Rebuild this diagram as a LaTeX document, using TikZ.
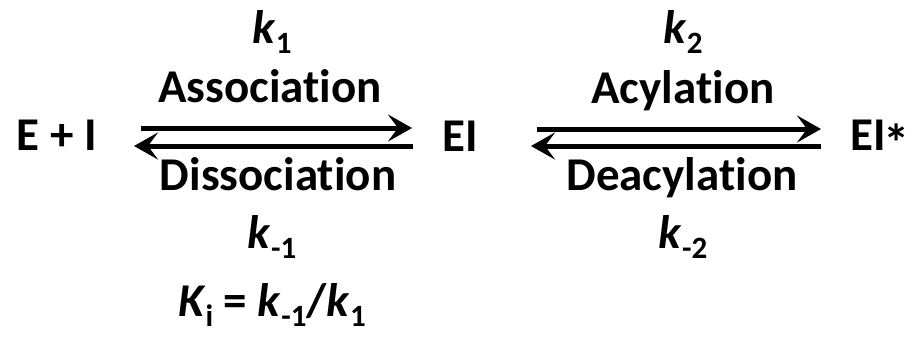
\documentclass[tikz,border=0pt]{standalone}
\usepackage{fontspec}
\usepackage{graphicx}
\setmainfont{Carlito}[Ligatures=NoCommon]
\usetikzlibrary{arrows.meta}
\newcommand\mysub[1]{\raisebox{-0.22em}{\fontsize{31}{34}\selectfont #1}}
\begin{document}
\begin{tikzpicture}[x=1pt,y=-1pt,
  lbl/.style={font=\fontsize{47}{54}\selectfont\bfseries, inner sep=0pt, anchor=base},
  rxn/.style={line width=5pt, -{Stealth[length=24pt,width=27pt,inset=10pt]}}]
\useasboundingbox (0,0) rectangle (912,338);
% species
\node[lbl] (EplusI) at (57,150) {E + I};
\node[lbl] (EI) at (460,151) {EI};
\node[lbl, anchor=base west] (EIstar) at (850,150) {EI\kern-0.04em\raisebox{-0.24em}{\scalebox{1.12}{*}}};
% arrow endpoints
\coordinate (a1s) at (141,128);
\coordinate (a1e) at (412,128);
\coordinate (b1s) at (413,146);
\coordinate (b1e) at (134,146);
\coordinate (a2s) at (537,129);
\coordinate (a2e) at (821,129);
\coordinate (b2s) at (821,146);
\coordinate (b2e) at (531,146);
\draw[rxn] (a1s) -- (a1e);
\draw[rxn] (b1s) -- (b1e);
\draw[rxn] (a2s) -- (a2e);
\draw[rxn] (b2s) -- (b2e);
% labels left
\node[lbl] (k1) at (272,43) {\textit{k}\mysub{1}};
\node[lbl] (assoc) at (270,102) {Association};
\node[lbl] (dissoc) at (278,190) {Dissociation};
\node[lbl] (km1) at (272,248) {\textit{k}\mysub{-1}};
\node[lbl] (Ki) at (272,316) {\textit{K}\mysub{i} = \textit{k}\mysub{-1}/\textit{k}\mysub{1}};
% labels right
\node[lbl] (k2) at (683,43) {\textit{k}\mysub{2}};
\node[lbl] (acyl) at (683,103) {Acylation};
\node[lbl] (deacyl) at (682,190) {Deacylation};
\node[lbl] (km2) at (683,248) {\textit{k}\mysub{-2}};
\end{tikzpicture}
\end{document}
